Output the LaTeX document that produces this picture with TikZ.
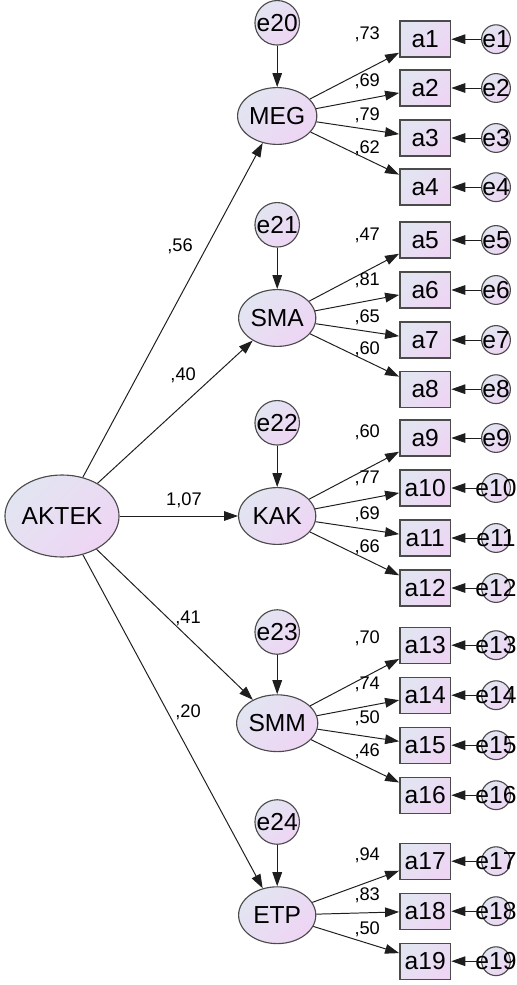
\documentclass[tikz,border=0pt]{standalone}
\usepackage{fontspec}
\setmainfont{Liberation Sans}
\usetikzlibrary{arrows.meta,shapes.geometric}
\definecolor{semBlue}{RGB}{226,229,241}
\definecolor{semPink}{RGB}{238,213,244}
\definecolor{semLine}{RGB}{30,30,30}
\definecolor{semEdge}{RGB}{75,75,75}

\begin{document}
\begin{tikzpicture}[
    grad/.style={top color=semBlue,bottom color=semPink,shading angle=45},
    latent/.style={ellipse,draw=semEdge,line width=0.8pt,grad,inner sep=0pt,
      minimum width=1.93cm,minimum height=1.42cm,font=\fontsize{17.5}{20}\selectfont},
    item/.style={rectangle,draw=semEdge,line width=1pt,grad,inner sep=0pt,
      minimum width=1.27cm,minimum height=0.9cm,font=\fontsize{17.5}{20}\selectfont},
    err/.style={circle,draw=semEdge,line width=0.8pt,grad,inner sep=0pt,
      minimum size=1.07cm,font=\fontsize{17.5}{20}\selectfont},
    serr/.style={circle,draw=semEdge,line width=0.8pt,grad,inner sep=0pt,
      minimum size=0.72cm,font=\fontsize{17.5}{20}\selectfont},
    coef/.style={font=\fontsize{13}{15}\selectfont,inner sep=1pt},
    arr/.style={-{Triangle[length=3.5mm,width=2.4mm]},line width=0.7pt,draw=semLine}
  ]
  \useasboundingbox (0,0) rectangle (12.9,-24.625);

  % second order factor
  \node[latent,minimum width=2.65cm,minimum height=2.05cm] (aktek) at (1.55,-12.9) {AKTEK};

  % first order factors with their disturbances
  \node[latent] (meg) at (6.93,-2.9)   {MEG};
  \node[latent] (sma) at (6.93,-7.95)  {SMA};
  \node[latent] (kak) at (6.93,-12.9)  {KAK};
  \node[latent] (smm) at (6.93,-18.08) {SMM};
  \node[latent] (etp) at (6.93,-22.88) {ETP};
  \node[err] (e20) at (6.93,-0.57)  {e20};
  \node[err] (e21) at (6.93,-5.62)  {e21};
  \node[err] (e22) at (6.93,-10.57) {e22};
  \node[err] (e23) at (6.93,-15.8)  {e23};
  \node[err] (e24) at (6.93,-20.55) {e24};
  \draw[arr] (e20) -- (meg);
  \draw[arr] (e21) -- (sma);
  \draw[arr] (e22) -- (kak);
  \draw[arr] (e23) -- (smm);
  \draw[arr] (e24) -- (etp);

  % structural paths
  \draw[arr] (aktek) -- (meg);
  \draw[arr] (aktek) -- (sma);
  \draw[arr] (aktek) -- (kak);
  \draw[arr] (aktek) -- (smm);
  \draw[arr] (aktek) -- (etp);
  \node[coef] (w20) at (4.5,-6.15)  {,56};
  \node[coef] (w21) at (4.58,-9.38) {,40};
  \node[coef] (w22) at (4.6,-12.5)  {1,07};
  \node[coef] (w23) at (4.7,-15.45) {,41};
  \node[coef] (w24) at (4.7,-17.8)  {,20};

  % observed items
  \node[item] (a1)  at (10.63,-0.98)  {a1};
  \node[item] (a2)  at (10.63,-2.2)   {a2};
  \node[item] (a3)  at (10.63,-3.45)  {a3};
  \node[item] (a4)  at (10.63,-4.68)  {a4};
  \node[item] (a5)  at (10.63,-6.0)   {a5};
  \node[item] (a6)  at (10.63,-7.25)  {a6};
  \node[item] (a7)  at (10.63,-8.5)   {a7};
  \node[item] (a8)  at (10.63,-9.73)  {a8};
  \node[item] (a9)  at (10.63,-10.95) {a9};
  \node[item] (a10) at (10.63,-12.2)  {a10};
  \node[item] (a11) at (10.63,-13.45) {a11};
  \node[item] (a12) at (10.63,-14.7)  {a12};
  \node[item] (a13) at (10.63,-16.13) {a13};
  \node[item] (a14) at (10.63,-17.38) {a14};
  \node[item] (a15) at (10.63,-18.63) {a15};
  \node[item] (a16) at (10.63,-19.88) {a16};
  \node[item] (a17) at (10.63,-21.53) {a17};
  \node[item] (a18) at (10.63,-22.78) {a18};
  \node[item] (a19) at (10.63,-24.03) {a19};

  % measurement errors (text is allowed to spill over the circle)
  \node[serr] (e1)  at (12.4,-0.98)  {\makebox[0pt]{e1}};
  \node[serr] (e2)  at (12.4,-2.2)   {\makebox[0pt]{e2}};
  \node[serr] (e3)  at (12.4,-3.45)  {\makebox[0pt]{e3}};
  \node[serr] (e4)  at (12.4,-4.68)  {\makebox[0pt]{e4}};
  \node[serr] (e5)  at (12.4,-6.0)   {\makebox[0pt]{e5}};
  \node[serr] (e6)  at (12.4,-7.25)  {\makebox[0pt]{e6}};
  \node[serr] (e7)  at (12.4,-8.5)   {\makebox[0pt]{e7}};
  \node[serr] (e8)  at (12.4,-9.73)  {\makebox[0pt]{e8}};
  \node[serr] (e9)  at (12.4,-10.95) {\makebox[0pt]{e9}};
  \node[serr] (e10) at (12.4,-12.2)  {\makebox[0pt]{e10}};
  \node[serr] (e11) at (12.4,-13.45) {\makebox[0pt]{e11}};
  \node[serr] (e12) at (12.4,-14.7)  {\makebox[0pt]{e12}};
  \node[serr] (e13) at (12.4,-16.13) {\makebox[0pt]{e13}};
  \node[serr] (e14) at (12.4,-17.38) {\makebox[0pt]{e14}};
  \node[serr] (e15) at (12.4,-18.63) {\makebox[0pt]{e15}};
  \node[serr] (e16) at (12.4,-19.88) {\makebox[0pt]{e16}};
  \node[serr] (e17) at (12.4,-21.53) {\makebox[0pt]{e17}};
  \node[serr] (e18) at (12.4,-22.78) {\makebox[0pt]{e18}};
  \node[serr] (e19) at (12.4,-24.03) {\makebox[0pt]{e19}};

  % loadings
  \draw[arr] (meg) -- (a1);  \node[coef] (l1)  at (9.18,-0.85)  {,73};
  \draw[arr] (meg) -- (a2);  \node[coef] (l2)  at (9.18,-2.03)  {,69};
  \draw[arr] (meg) -- (a3);  \node[coef] (l3)  at (9.18,-2.88)  {,79};
  \draw[arr] (meg) -- (a4);  \node[coef] (l4)  at (9.18,-3.7)   {,62};
  \draw[arr] (sma) -- (a5);  \node[coef] (l5)  at (9.18,-5.88)  {,47};
  \draw[arr] (sma) -- (a6);  \node[coef] (l6)  at (9.18,-7.0)   {,81};
  \draw[arr] (sma) -- (a7);  \node[coef] (l7)  at (9.18,-7.93)  {,65};
  \draw[arr] (sma) -- (a8);  \node[coef] (l8)  at (9.18,-8.73)  {,60};
  \draw[arr] (kak) -- (a9);  \node[coef] (l9)  at (9.18,-10.8)  {,60};
  \draw[arr] (kak) -- (a10); \node[coef] (l10) at (9.18,-11.95) {,77};
  \draw[arr] (kak) -- (a11); \node[coef] (l11) at (9.18,-12.85) {,69};
  \draw[arr] (kak) -- (a12); \node[coef] (l12) at (9.18,-13.68) {,66};
  \draw[arr] (smm) -- (a13); \node[coef] (l13) at (9.18,-15.95) {,70};
  \draw[arr] (smm) -- (a14); \node[coef] (l14) at (9.18,-17.1)  {,74};
  \draw[arr] (smm) -- (a15); \node[coef] (l15) at (9.18,-17.95) {,50};
  \draw[arr] (smm) -- (a16); \node[coef] (l16) at (9.18,-18.78) {,46};
  \draw[arr] (etp) -- (a17); \node[coef] (l17) at (9.18,-21.38) {,94};
  \draw[arr] (etp) -- (a18); \node[coef] (l18) at (9.18,-22.38) {,83};
  \draw[arr] (etp) -- (a19); \node[coef] (l19) at (9.18,-23.23) {,50};

  % error paths into the items
  \draw[arr] (e1) -- (a1);   \draw[arr] (e2) -- (a2);
  \draw[arr] (e3) -- (a3);   \draw[arr] (e4) -- (a4);
  \draw[arr] (e5) -- (a5);   \draw[arr] (e6) -- (a6);
  \draw[arr] (e7) -- (a7);   \draw[arr] (e8) -- (a8);
  \draw[arr] (e9) -- (a9);   \draw[arr] (e10) -- (a10);
  \draw[arr] (e11) -- (a11); \draw[arr] (e12) -- (a12);
  \draw[arr] (e13) -- (a13); \draw[arr] (e14) -- (a14);
  \draw[arr] (e15) -- (a15); \draw[arr] (e16) -- (a16);
  \draw[arr] (e17) -- (a17); \draw[arr] (e18) -- (a18);
  \draw[arr] (e19) -- (a19);
\end{tikzpicture}
\end{document}
